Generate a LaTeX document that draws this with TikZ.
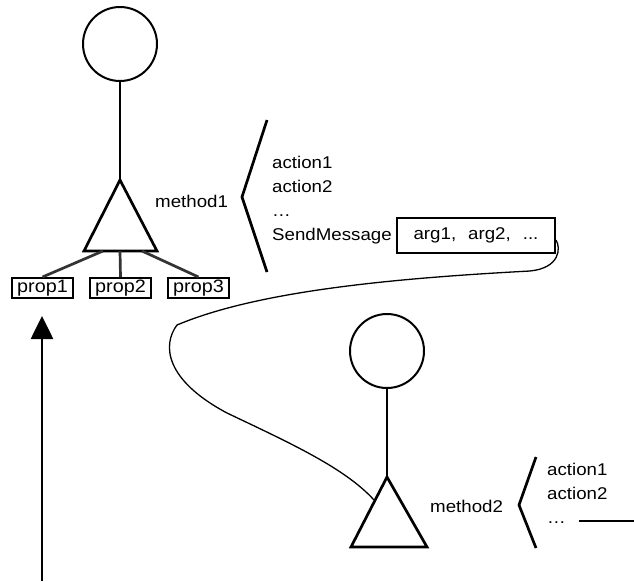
\documentclass[tikz,border=0pt]{standalone}
\usepackage{fontspec}
\setmainfont[FakeStretch=1.1]{Liberation Sans}
\usetikzlibrary{arrows.meta}
\begin{document}
\begin{tikzpicture}[x=1pt, y=-1pt, >={Triangle[length=23pt,width=22pt]},
    font=\fontsize{17}{24}\selectfont,
    stick/.style={line width=2.7pt},
    head/.style={draw, circle, line width=2pt, minimum size=74pt, inner sep=0pt},
    propbox/.style={draw, line width=2pt, minimum width=61pt, minimum height=20pt, inner sep=0pt,
        font=\fontsize{18}{20}\selectfont},
    txt/.style={anchor=base west, inner sep=0pt}]
    \useasboundingbox (0,0) rectangle (634,581);

    % Coordinates of the first figure
    \node[head] (headA) at (120,44) {};
    \coordinate (apexA) at (120,180);
    \coordinate (leftA) at (84,251);
    \coordinate (rightA) at (157,251);

    % Coordinates of the second figure
    \node[head] (headB) at (387,351) {};
    \coordinate (apexB) at (387,477);
    \coordinate (leftB) at (351,547);
    \coordinate (rightB) at (427,547);

    % Draw the first figure
    \draw[stick] (headA) -- (apexA);
    \draw[stick, line join=miter] (apexA) -- (leftA) -- (rightA) -- cycle;

    % Draw the second figure
    \draw[stick] (headB) -- (apexB);
    \draw[stick, line join=miter] (apexB) -- (leftB) -- (rightB) -- cycle;

    % Properties under the first figure
    \node[propbox] (prop1) at (42.5,288) {prop1};
    \node[propbox] (prop2) at (120.5,288) {prop2};
    \node[propbox] (prop3) at (198.5,288) {prop3};
    \draw[stick, black!80] (103,251) -- (prop1.north);
    \draw[stick, black!80] (120,251) -- (prop2.north);
    \draw[stick, black!80] (142,251) -- (prop3.north);

    % Method labels and brackets
    \node[txt] (methA) at (155,207) {method1};
    \draw[stick] (267,120) -- (242,197) -- (267,272);
    \node[txt] (methB) at (430,512) {method2};
    \draw[stick] (536,457) -- (519,505) -- (536,548);

    % Actions of method1
    \node[txt] (actA1) at (272,168) {action1};
    \node[txt] (actA2) at (272,192) {action2};
    \node[txt] (dotsA) at (272,216) {…};
    \node[txt] (send) at (272,240) {SendMessage};
    \node[draw, line width=2pt, minimum width=158pt, minimum height=35pt, inner sep=0pt]
        (args) at (476,235) {arg1,\hspace{12pt}arg2,\hspace{12pt}...};

    % Actions of method2
    \node[txt] (actB1) at (547,475) {action1};
    \node[txt] (actB2) at (547,499) {action2};
    \node[txt] (dotsB) at (547,523) {…};
    \coordinate (tailB) at (634,521);
    \draw[stick] (579,521) -- (tailB);

    % Message from the argument box to the second figure
    \draw[line width=1.3pt] ([yshift=-5pt]args.east) .. controls (561,248) and (560,268) .. (530,271)
        .. controls (400,278) and (260,290) .. (177,325)
        .. controls (162,345) and (165,380) .. (227,413)
        .. controls (290,443) and (345,468) .. (374,500);

    % Arrow pointing at prop1
    \coordinate (foot) at (42,581);
    \draw[->, stick, shorten >=17pt] (foot) -- (foot |- prop1.south);
\end{tikzpicture}
\end{document}
